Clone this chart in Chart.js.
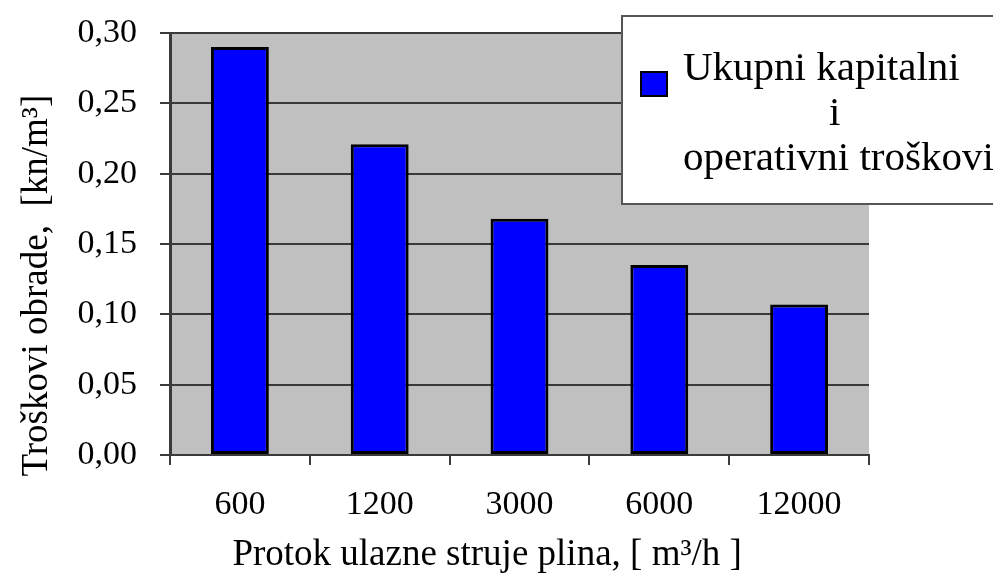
<!DOCTYPE html>
<html>
<head>
<meta charset="utf-8">
<script src="https://cdn.jsdelivr.net/npm/chart.js@4.4.1/dist/chart.umd.min.js"></script>
<style>
  body { margin: 0; background: #fff; overflow: hidden; }
</style>
</head>
<body>
<canvas id="chart" width="993" height="574"></canvas>
<script>
// ---- data ----
const categories = ['600', '1200', '3000', '6000', '12000'];
const costs = [0.290, 0.221, 0.168, 0.135, 0.107];
const yTickLabels = ['0,00', '0,05', '0,10', '0,15', '0,20', '0,25', '0,30'];
const legendLines = ['Ukupni kapitalni', 'i', 'operativni troškovi'];

const serif = "'Liberation Serif', 'Times New Roman', serif";
const axisColor = '#3a3a3a';

// gray plot background
const plotBg = {
  id: 'plotBg',
  beforeDraw(chart) {
    const { ctx, chartArea: a } = chart;
    ctx.save();
    ctx.fillStyle = '#c0c0c0';
    ctx.fillRect(a.left, a.top, a.right - a.left, a.bottom - a.top);
    ctx.restore();
  }
};

// white legend box overlapping the top right of the plot, cut by the edge
const boxLegend = {
  id: 'boxLegend',
  afterDraw(chart) {
    const ctx = chart.ctx;
    const ds = chart.data.datasets[0];
    ctx.save();
    ctx.fillStyle = '#fff';
    ctx.fillRect(621, 15, 400, 190);
    ctx.strokeStyle = '#555';
    ctx.lineWidth = 2;
    ctx.strokeRect(622, 16, 400, 188);

    ctx.fillStyle = ds.backgroundColor;
    ctx.fillRect(641, 72, 26, 24);
    ctx.strokeStyle = '#000';
    ctx.strokeRect(641, 72, 26, 24);

    ctx.fillStyle = '#000';
    ctx.font = '41px ' + serif;
    ctx.textBaseline = 'alphabetic';
    ctx.textAlign = 'left';
    ctx.fillText(legendLines[0], 683, 80);
    ctx.fillText(legendLines[1], 829, 125);
    ctx.fillText(legendLines[2], 683, 170);
    ctx.restore();
  }
};

new Chart(document.getElementById('chart'), {
  type: 'bar',
  data: {
    labels: categories,
    datasets: [{
      label: legendLines.join(' '),
      data: costs,
      backgroundColor: '#0000ff',
      borderColor: '#000',
      borderWidth: 3,
      borderSkipped: false,
      barPercentage: 0.414,
      categoryPercentage: 1.0
    }]
  },
  options: {
    responsive: false,
    animation: false,
    layout: { padding: { left: 0, right: 124, top: 33, bottom: 0 } },
    plugins: {
      legend: { display: false },
      tooltip: { enabled: false }
    },
    scales: {
      x: {
        offset: true,
        grid: {
          offset: true,
          drawOnChartArea: false,
          color: axisColor,
          lineWidth: 2,
          tickLength: 10
        },
        border: { color: axisColor, width: 2 },
        ticks: { color: '#000', padding: 20, font: { family: serif, size: 34 } },
        title: {
          display: true,
          // trailing spaces shift the title left, as in the original
          text: 'Protok ulazne struje plina, [ m³/h ]       ',
          color: '#000',
          font: { family: serif, size: 37, lineHeight: 1 },
          padding: 0
        },
        afterFit(scale) { scale.height = 119; }
      },
      y: {
        min: 0,
        max: 0.3,
        ticks: {
          stepSize: 0.05,
          color: '#000',
          padding: 23,
          font: { family: serif, size: 34 },
          callback: (v, i) => yTickLabels[i]
        },
        grid: { color: axisColor, lineWidth: 2, tickLength: 10 },
        border: { color: axisColor, width: 3 },
        title: {
          display: true,
          text: 'Troškovi obrade,  [kn/m³]         ',
          color: '#000',
          font: { family: serif, size: 37, lineHeight: 1.2 },
          padding: { top: 15, bottom: 0 }
        },
        afterFit(scale) {
          scale.width = 170;
          scale.paddingTop = 0;
          scale.paddingBottom = 0;
        }
      }
    }
  },
  plugins: [plotBg, boxLegend]
});
</script>
</body>
</html>
